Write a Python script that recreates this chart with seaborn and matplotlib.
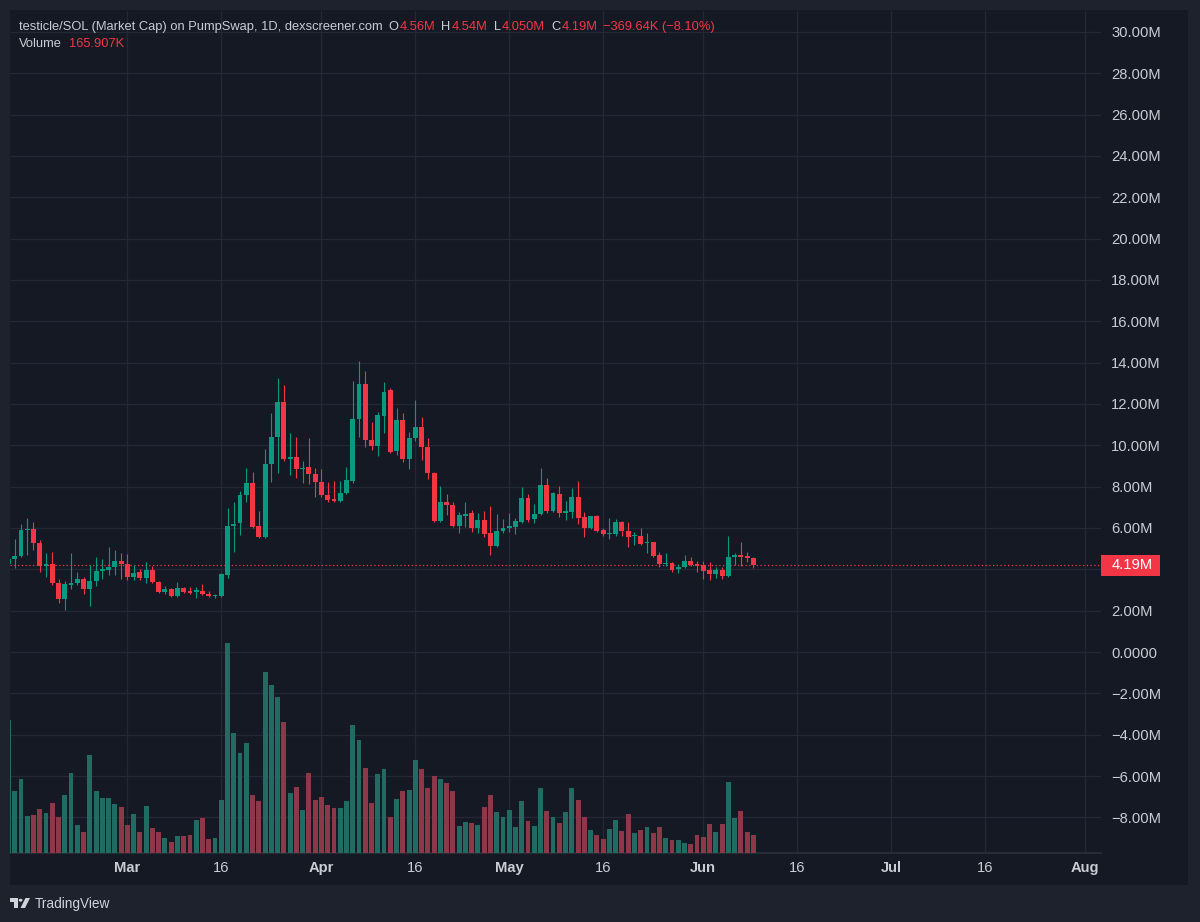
import numpy as np
import pandas as pd
import matplotlib
matplotlib.use("Agg")
import matplotlib.pyplot as plt
import matplotlib.dates as mdates
import matplotlib.transforms as mtransforms
from matplotlib.patches import Rectangle, Polygon, Circle
import seaborn as sns

# daily candles: market cap in millions, volume in thousands
dates = pd.date_range("2025-02-10", periods=120, freq="D")

opens = [4.25, 4.49, 4.64, 5.90, 5.97, 5.26, 4.17, 4.28, 3.32, 2.56,
         3.24, 3.35, 3.53, 3.03, 3.45, 3.93, 3.96, 4.13, 4.42, 4.26,
         3.61, 3.86, 3.60, 3.97, 3.40, 2.92, 3.03, 2.71, 3.08, 2.95,
         2.92, 2.97, 2.82, 2.72, 2.72, 3.73, 6.10, 6.23, 7.60, 8.19,
         6.10, 5.58, 9.10, 10.42, 12.11, 9.34, 9.42, 8.84, 8.94, 8.60,
         8.24, 7.60, 7.40, 7.32, 7.68, 8.27, 11.26, 12.97, 10.26, 9.98,
         11.44, 12.68, 9.74, 11.22, 9.34, 10.34, 10.90, 9.93, 8.64, 6.36,
         7.26, 7.11, 6.11, 6.60, 6.71, 6.02, 6.39, 5.74, 5.13, 5.87,
         5.98, 6.06, 6.31, 7.47, 6.42, 6.66, 8.08, 6.84, 7.64, 6.71,
         6.79, 7.52, 6.52, 5.98, 6.58, 5.90, 5.71, 5.71, 6.31, 5.87,
         5.60, 5.61, 5.26, 5.31, 4.69, 4.26, 4.32, 4.00, 4.10, 4.42,
         4.24, 4.21, 3.98, 3.76, 3.97, 3.68, 4.61, 4.69, 4.64, 4.56]

highs = [4.60, 5.47, 6.19, 6.48, 6.30, 5.42, 4.77, 4.82, 3.52, 3.43,
         4.77, 3.88, 3.61, 4.21, 4.61, 4.48, 5.09, 4.93, 4.77, 4.72,
         4.21, 4.02, 4.37, 4.18, 3.43, 3.19, 3.08, 3.40, 3.16, 3.13,
         3.15, 3.27, 2.95, 2.80, 3.81, 6.95, 7.27, 7.79, 8.89, 8.72,
         6.82, 9.81, 11.55, 13.27, 12.92, 10.58, 10.42, 9.24, 10.34, 8.89,
         8.84, 8.24, 8.27, 8.27, 8.97, 13.11, 14.08, 13.59, 11.14, 11.63,
         13.08, 12.76, 11.82, 11.55, 10.63, 12.19, 11.36, 10.37, 8.70, 8.03,
         7.64, 7.27, 6.79, 7.27, 6.87, 6.71, 6.84, 7.08, 6.66, 6.42,
         6.71, 6.50, 8.00, 7.63, 7.14, 8.92, 8.40, 7.76, 8.03, 7.32,
         7.92, 8.29, 6.79, 6.60, 6.63, 6.02, 6.47, 6.42, 6.36, 6.31,
         5.82, 6.02, 5.77, 5.33, 4.85, 4.80, 4.37, 4.24, 4.69, 4.58,
         4.40, 4.40, 4.34, 4.13, 4.10, 5.61, 4.80, 5.34, 4.85, 4.60]

lows = [4.15, 4.06, 4.60, 4.69, 4.93, 3.88, 3.61, 3.24, 2.36, 2.03,
        3.03, 3.24, 2.81, 2.23, 3.19, 3.53, 3.73, 3.73, 3.53, 3.48,
        3.48, 3.48, 3.32, 3.35, 2.87, 2.81, 2.68, 2.65, 2.84, 2.80,
        2.63, 2.75, 2.65, 2.60, 2.68, 3.60, 4.85, 5.66, 7.27, 6.00,
        5.53, 5.53, 8.24, 8.65, 9.24, 8.56, 8.43, 8.16, 8.11, 7.51,
        7.51, 7.24, 7.24, 7.27, 7.63, 8.16, 10.42, 9.93, 9.77, 9.48,
        10.58, 9.64, 9.53, 9.21, 8.84, 10.21, 9.29, 8.36, 6.30, 6.31,
        6.63, 6.06, 5.77, 6.06, 5.82, 5.74, 5.58, 4.69, 5.10, 5.77,
        5.82, 5.69, 6.23, 6.31, 6.26, 6.63, 6.71, 6.79, 6.52, 6.39,
        6.47, 6.19, 5.55, 5.95, 5.82, 5.63, 5.45, 5.61, 5.61, 5.07,
        5.18, 5.18, 4.77, 4.61, 4.10, 4.16, 3.88, 3.84, 4.08, 4.16,
        3.88, 3.53, 3.48, 3.60, 3.53, 3.64, 4.21, 4.16, 4.37, 4.05]

closes = [4.49, 4.64, 5.90, 5.97, 5.26, 4.17, 4.28, 3.32, 2.56, 3.27,
          3.35, 3.53, 3.03, 3.45, 3.93, 4.00, 4.13, 4.42, 4.26, 3.61,
          3.84, 3.60, 3.97, 3.40, 2.92, 3.03, 2.71, 3.08, 2.92, 2.85,
          2.99, 2.79, 2.69, 2.76, 3.77, 6.10, 6.20, 7.60, 8.19, 6.06,
          5.58, 9.10, 10.42, 12.11, 9.34, 9.45, 8.84, 8.92, 8.60, 8.24,
          7.60, 7.35, 7.32, 7.68, 8.32, 11.26, 12.97, 10.26, 9.98, 11.47,
          12.60, 9.69, 11.22, 9.32, 10.34, 10.90, 9.93, 8.64, 6.36, 7.27,
          7.11, 6.10, 6.63, 6.70, 6.02, 6.39, 5.71, 5.13, 5.87, 5.98,
          6.09, 6.34, 7.47, 6.39, 6.66, 8.08, 6.84, 7.68, 6.74, 6.82,
          7.52, 6.50, 5.98, 6.58, 5.87, 5.69, 5.77, 6.31, 5.85, 5.55,
          5.66, 5.22, 5.31, 4.64, 4.26, 4.32, 3.97, 4.13, 4.42, 4.21,
          4.16, 3.93, 3.76, 3.97, 3.68, 4.61, 4.69, 4.61, 4.53, 4.19]

volumes = [1204, 560, 674, 336, 347, 402, 366, 456, 329, 523,
           728, 251, 193, 892, 562, 502, 502, 442, 417, 251,
           354, 193, 429, 227, 188, 133, 97, 151, 151, 161,
           299, 320, 130, 136, 478, 1905, 1091, 907, 998, 529,
           472, 1639, 1521, 1412, 1188, 541, 601, 387, 723, 481,
           511, 435, 408, 405, 474, 1164, 1025, 768, 451, 714,
           759, 329, 492, 562, 569, 841, 759, 592, 698, 671,
           632, 565, 248, 284, 269, 251, 420, 526, 372, 324,
           393, 233, 472, 293, 248, 592, 378, 324, 272, 375,
           587, 483, 324, 209, 161, 124, 215, 297, 197, 354,
           181, 211, 239, 184, 233, 133, 121, 115, 88, 79,
           166, 145, 260, 190, 260, 647, 315, 378, 190, 165.907]

tick_dates = ["2025-03-01", "2025-03-16", "2025-04-01", "2025-04-16",
              "2025-05-01", "2025-05-16", "2025-06-01", "2025-06-16",
              "2025-07-01", "2025-07-16", "2025-08-01"]
tick_labels = ["Mar", "16", "Apr", "16", "May", "16", "Jun", "16", "Jul", "16", "Aug"]
price_ticks = [-8, -6, -4, -2, 0, 2, 4, 6, 8, 10, 12, 14, 16, 18, 20, 22, 24, 26, 28, 30]
last_price = 4.19
last_label = "4.19M"

# colours
FRAME = "#1e222d"
CHART = "#151924"
GRID = "#242834"
TEXT = "#c9ccd4"
UP = "#089981"
DOWN = "#f23645"
VOL_UP = "#226b62"
VOL_DOWN = "#8c3848"

header_line1 = [("testicle/SOL (Market Cap) on PumpSwap, 1D, dexscreener.com", TEXT, 0),
                ("O", TEXT, 4.2), ("4.56M", DOWN, 1.0),
                ("H", TEXT, 4.2), ("4.54M", DOWN, 1.0),
                ("L", TEXT, 4.2), ("4.050M", DOWN, 1.0),
                ("C", TEXT, 4.2), ("4.19M", DOWN, 1.0),
                ("\u2212369.64K (\u22128.10%)", DOWN, 4.2)]
header_line2 = [("Volume", TEXT, 0), ("165.907K", DOWN, 5.0)]

sns.set_theme(style="dark", rc={"axes.facecolor": CHART, "figure.facecolor": FRAME})
plt.rcParams["font.family"] = ["Liberation Sans", "DejaVu Sans"]

W, H = 1200, 922
fig = plt.figure(figsize=(W / 100, H / 100), dpi=100)


def fx(px):
    return px / W


def fy(py):
    return 1 - py / H


# chart panel behind everything
fig.patches.append(Rectangle((fx(10), fy(885)), fx(1188) - fx(10), fy(10) - fy(885),
                             transform=fig.transFigure, facecolor=CHART, edgecolor="none", zorder=-5))

# plot area: x 10..1101 px, y 11..853 px
ax = fig.add_axes([fx(10), fy(853), fx(1101) - fx(10), fy(11) - fy(853)])
vax = ax.twinx()

x = mdates.date2num(dates)
o = np.array(opens)
h = np.array(highs)
l = np.array(lows)
c = np.array(closes)
up = c >= o
cols = np.where(up, UP, DOWN)

# volume bars (seaborn, numeric date axis)
vol_df = pd.DataFrame({"day": x, "volume": volumes, "side": np.where(up, "up", "down")})
sns.barplot(data=vol_df, x="day", y="volume", hue="side", native_scale=True, dodge=False,
            palette={"up": VOL_UP, "down": VOL_DOWN}, width=0.78, saturation=1,
            errorbar=None, legend=False, linewidth=0, ax=vax)

# candles
ax.vlines(x, l, h, colors=cols, linewidth=0.8, zorder=3)
ax.bar(x, np.maximum(np.abs(c - o), 0.06), bottom=np.minimum(o, c), width=0.78,
       color=cols, linewidth=0, zorder=4)

# scales: 6.26 px per day, 20.67 px per 1M
day0 = x[1]
ax.set_xlim(day0 - 0.75, day0 - 0.75 + 1091 / 6.26)
ax.set_ylim((652 - 853) / 20.67, (652 - 11) / 20.67)
vax.set_ylim(0, 842 * 9.07)
vax.set_yticks([])
vax.set_xlabel("")
vax.set_ylabel("")
for s in vax.spines.values():
    s.set_visible(False)

# axes styling (the 4.00M label sits under the last-price tag)
ax.yaxis.tick_right()
ax.set_yticks(price_ticks)
ax.set_yticklabels(["" if v == 4 else "0.0000" if v == 0 else f"{v:.2f}M".replace("-", "\u2212")
                    for v in price_ticks])
ax.set_xticks(mdates.date2num(pd.to_datetime(tick_dates)))
ax.set_xticklabels(tick_labels)
for lab in ax.get_xticklabels():
    if not lab.get_text().isdigit():
        lab.set_fontweight("bold")
ax.tick_params(axis="y", length=0, pad=7.2, labelsize=10.6, colors=TEXT,
               right=True, labelright=True, left=False, labelleft=False)
ax.tick_params(axis="x", length=0, pad=6, labelsize=10.6, colors=TEXT)
ax.grid(True, color=GRID, linewidth=1)
ax.set_axisbelow(True)
for name, s in ax.spines.items():
    s.set_visible(name == "bottom")
ax.spines["bottom"].set_color("#2a2e39")
ax.set_xlabel("")
ax.set_ylabel("")

# last price line and label
ax.axhline(last_price, color=DOWN, linestyle=(0, (1, 2)), linewidth=0.9, zorder=2)
blend = mtransforms.blended_transform_factory(ax.transAxes, ax.transData)
ax.add_patch(Rectangle((1.0, last_price - 0.5), 59 / 1091, 1.0, transform=blend,
                       facecolor=DOWN, edgecolor="none", clip_on=False, zorder=6))
ax.text(1.0 + 11 / 1091, last_price, last_label, transform=blend, color="white",
        fontsize=10.6, ha="left", va="center", clip_on=False, zorder=7)


def chain(parts, x_px, y_px, size):
    # each legend piece starts where the previous one ends
    prev = fig.text(fx(x_px), fy(y_px), parts[0][0], color=parts[0][1],
                    fontsize=size, ha="left", va="center", zorder=10)
    for s, col, gap in parts[1:]:
        prev = vax.annotate(s, xy=(1, 0.5), xycoords=prev, xytext=(gap, 0),
                            textcoords="offset points", ha="left", va="center",
                            color=col, fontsize=size, annotation_clip=False, zorder=10)


chain(header_line1, 19, 27, 9.3)
chain(header_line2, 19, 44, 9.3)

# footer logo
logo = [Rectangle((fx(10), fy(902)), fx(18) - fx(10), fy(898) - fy(902)),
        Rectangle((fx(14), fy(908)), fx(18) - fx(14), fy(898) - fy(908)),
        Polygon([(fx(20.5), fy(908)), (fx(25), fy(908)), (fx(30), fy(898)), (fx(25.5), fy(898))])]
for p in logo:
    p.set_transform(fig.transFigure)
    p.set_facecolor("#d1d4dc")
    p.set_edgecolor("none")
    fig.patches.append(p)
dot = Circle((fx(20.6), fy(900.2)), fx(1.9), transform=fig.transFigure,
             facecolor="#d1d4dc", edgecolor="none")
fig.patches.append(dot)
fig.text(fx(35), fy(904), "TradingView", color="#d1d4dc", fontsize=9.8, ha="left", va="center")

fig.savefig("out.png", dpi=100, facecolor=FRAME)
